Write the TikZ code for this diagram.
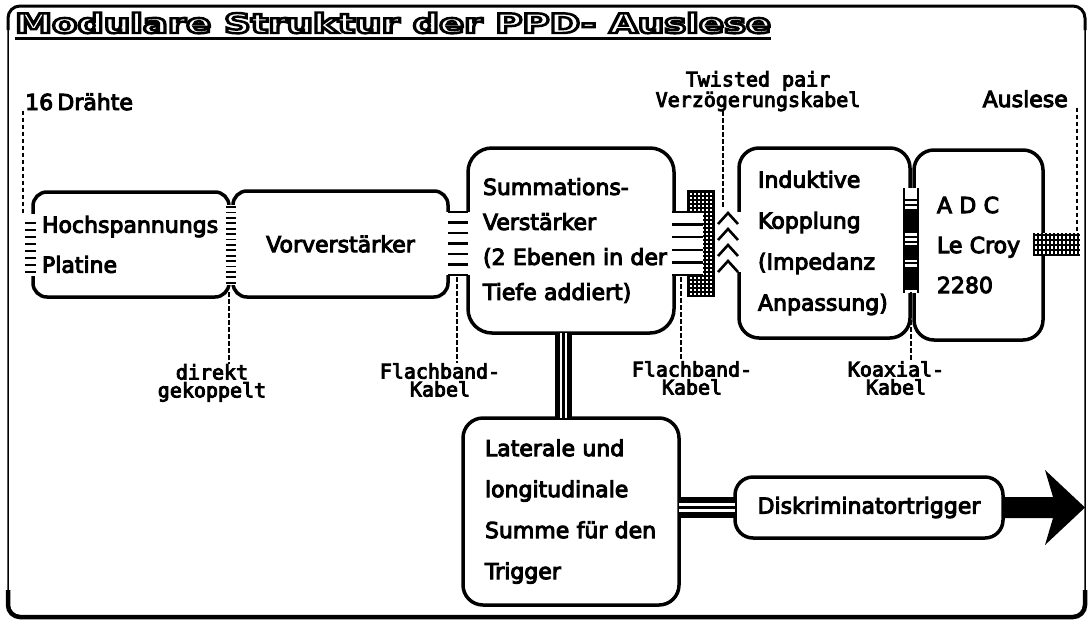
\documentclass[tikz,border=0pt]{standalone}
\usepackage{fontspec}
\usepackage{graphicx}
\usetikzlibrary{calc}
\newfontfamily\boxfont{DejaVu Sans}[WordSpace=0.6, BoldFont=DejaVu Sans, BoldFeatures={FakeBold=4.5}]
\newfontfamily\lblfont{DejaVu Sans Mono}[BoldFont=DejaVu Sans Mono, BoldFeatures={FakeBold=4.5}]
\newfontfamily\titlefont{DejaVu Sans Bold}[FakeBold=9]
\newcommand\outlinetext[1]{{\color{white}\special{pdf:literal direct 0 G}#1}}

\begin{document}
\begin{tikzpicture}[x=1pt,y=-1pt,
  blk/.style={draw, line width=3.5pt, rounded corners=16pt, inner sep=0pt, outer sep=0pt},
  boxtxt/.style={font=\boxfont\bfseries\fontsize{22}{40}\selectfont, align=left},
  lbl/.style={font=\lblfont\bfseries\fontsize{20}{18}\selectfont, align=center, inner sep=0pt},
  leader/.style={line width=1.8pt, dash pattern=on 4.5pt off 2.5pt},
  comb/.style={line width=1.8pt},
  band/.style={line width=17pt}]
\useasboundingbox (0,0) rectangle (1091,624);
% ---- frame and title ----
\draw[line width=1.5pt, rounded corners=12pt] (8,6) rectangle (1085,618);
\draw[line width=3pt, rounded corners=12pt] (8,30) -- (8,6) -- (1085,6) -- (1085,30);
\draw[line width=4.5pt, rounded corners=12pt] (8,590) -- (8,617) -- (1085,617) -- (1085,590);
\node[anchor=base west, inner sep=0pt, font=\titlefont\fontsize{27}{30}\selectfont] (ttl) at (15,33)
  {\scalebox{1.37}[1]{\outlinetext{Modulare Struktur der PPD- Auslese}}};
\draw[line width=3pt] ([yshift=-5pt]ttl.base west) -- ([yshift=-5pt]ttl.base east);
% ---- boxes ----
\node[blk, boxtxt, rounded corners=14pt, minimum width=196pt, minimum height=105pt,
  text width=178pt, inner xsep=9pt] (hv) at (131,244.5) {\mbox{Hochspannungs}\\Platine};
\node[blk, boxtxt, rounded corners=14pt, minimum width=215pt, minimum height=106pt,
  align=center] (vv) at (340.5,244) {Vorverst\"arker};
\node[blk, boxtxt, rounded corners=24pt, minimum width=206pt, minimum height=185pt,
  text width=176pt, inner xsep=15pt, font=\boxfont\bfseries\fontsize{22}{35}\selectfont] (sv) at (571,240.5)
  {Summations-\\Verst\"arker\\\mbox{(2 Ebenen in der}\\\mbox{Tiefe addiert)}};
\node[blk, boxtxt, rounded corners=20pt, minimum width=171pt, minimum height=190pt,
  text width=133pt, inner xsep=19pt, font=\boxfont\bfseries\fontsize{22}{41}\selectfont] (ik) at (824.5,243)
  {Induktive\\Kopplung\\(Impedanz\\\mbox{Anpassung)}};
\node[blk, boxtxt, rounded corners=20pt, minimum width=129pt, minimum height=190pt,
  text width=83pt, inner xsep=23pt] (adc) at (978.5,245) {A\,\,D\,\,C\\\mbox{Le Croy}\\2280};
\node[blk, boxtxt, rounded corners=20pt, minimum width=216pt, minimum height=187pt,
  text width=172pt, inner xsep=22pt, font=\boxfont\bfseries\fontsize{22}{41}\selectfont] (ls) at (571,511.5)
  {\mbox{Laterale und}\\longitudinale\\\mbox{Summe f\"ur den}\\Trigger};
\node[blk, boxtxt, rounded corners=18pt, minimum width=268pt, minimum height=61pt,
  align=center] (dt) at (869,507.5) {Diskriminatortrigger};
% ---- wires into the high voltage board ----
\fill[white] (hv.west |- 0,214) ++(-3,0) rectangle ++(6,62);
\foreach \y in {223,230,...,272} \draw[line width=2.5pt] (hv.west |- 0,\y) ++(-8,0) -- ++(11,0);
% ---- direct coupling ----
\fill[white] (hv.east |- 0,205) ++(-2,0) rectangle ++(8,80);
\foreach \y in {207,212.4,...,284} \draw[comb] (hv.east |- 0,\y) ++(-3,0) -- ++(10,0);
% ---- ribbon cable ----
\fill[white] (vv.east |- 0,212) ++(-3,0) rectangle ++(26,63);
\foreach \y in {212,222.5,...,276} \draw[line width=2.5pt] (vv.east |- 0,\y) -- (sv.west |- 0,\y);
% ---- ribbon cable, plug and twisted pair ----
\fill (sv.east |- 0,190) ++(13,0) rectangle ++(28,107);
\foreach \x in {690,694,...,710} \foreach \y in {193,197,...,293} \fill[white] (\x,\y) rectangle ++(2,2);
\fill[white] (sv.east |- 0,212) ++(-3,0) rectangle ++(32,63);
\foreach \y in {212,224.6,...,276} \draw[line width=2.5pt] (sv.east |- 0,\y) ++(-2,0) -- ++(31,0);
\fill[white] (ik.west |- 0,212) ++(-3,0) rectangle ++(6,60);
\foreach \y in {211,227,243,259} \draw[line width=2.6pt] (ik.west |- 0,\y) ++(-21,13) -- ++(10,-11) -- ++(10,11);
% ---- coaxial cables ----
\fill[white] (ik.east |- 0,188) ++(-7,0) rectangle ++(16,105);
\draw[line width=1.5pt] (ik.east |- 0,188) ++(-6,0) -- ++(0,105);
\draw[line width=1.5pt] (adc.west |- 0,188) ++(4,0) -- ++(0,105);
\foreach \ya/\h in {209/24,245/15,267/23} \fill (ik.east |- 0,\ya) ++(-6,0) rectangle ++(14,\h);
\foreach \y in {200,205,237,242,263} \draw[line width=1.5pt] (ik.east |- 0,\y) ++(-7,0) -- ++(16,0);
% ---- readout plug ----
\fill[white] (adc.east |- 0,233) ++(-10,0) rectangle ++(47,23);
\foreach \y in {235,240,...,255} \draw[line width=1.3pt] (adc.east |- 0,\y) ++(-10,0) -- ++(47,0);
\foreach \x in {-9,-5,...,35} \draw[line width=1.3pt] (adc.east |- 0,233) ++(\x,0) -- ++(0,23);
% ---- trigger path ----
\draw[band] ($(sv.south)+(-8,0)$) -- ($(ls.north)+(-8,0)$);
\foreach \d in {-10.5,-5.5} \draw[white, line width=2pt] ($(sv.south)+(\d,0)$) -- ($(ls.north)+(\d,0)$);
\coordinate (lsout) at (ls.east |- dt.west);
\draw[band, line width=21pt] (lsout) -- (dt.west);
\foreach \d in {-3,3} \draw[white, line width=2.5pt] ($(lsout)+(0,\d)$) -- ($(dt.west)+(0,\d)$);
\fill (dt.east) ++(0,-10.5) -- ++(50,0) -- ++(-8,-27) -- ++(40,37.5) -- ++(-40,37.5) -- ++(8,-27) -- ++(-50,0) -- cycle;
% ---- labels ----
\node[anchor=base west, inner sep=0pt, font=\boxfont\bfseries\fontsize{22}{26}\selectfont] (lbl16) at (25,110) {16 Dr\"ahte};
\node[anchor=base east, inner sep=0pt, font=\boxfont\bfseries\fontsize{22}{26}\selectfont] (lblaus) at (1068,107) {Auslese};
\node[lbl, anchor=north] (lbltw) at (758,71) {Twisted pair\\Verz\"ogerungskabel};
\node[lbl, anchor=north] (lbldk) at (212,364) {direkt\\gekoppelt};
\node[lbl, anchor=north] (lblfb1) at (440,363) {Flachband-\\Kabel};
\node[lbl, anchor=north] (lblfb2) at (692,361) {Flachband-\\Kabel};
\node[lbl, anchor=north] (lblkx) at (896,361) {Koaxial-\\Kabel};
\coordinate (t16) at (23,214);
\coordinate (taus) at (1077,232);
\coordinate (ttw) at (723,209);
\coordinate (tdk) at (229,292);
\coordinate (tfb1) at (457,277);
\coordinate (tfb2) at (681,277);
\coordinate (tkx) at (911,292);
\draw[leader] (lbl16.south -| t16) -- (t16);
\draw[leader] (lblaus.south -| taus) -- (taus);
\draw[leader] (lbltw.south -| ttw) -- (ttw);
\draw[leader] (tdk) -- (tdk |- lbldk.north);
\draw[leader] (tfb1) -- (tfb1 |- lblfb1.north);
\draw[leader] (tfb2) -- (tfb2 |- lblfb2.north);
\draw[leader] (tkx) -- (tkx |- lblkx.north);
\end{tikzpicture}
\end{document}
